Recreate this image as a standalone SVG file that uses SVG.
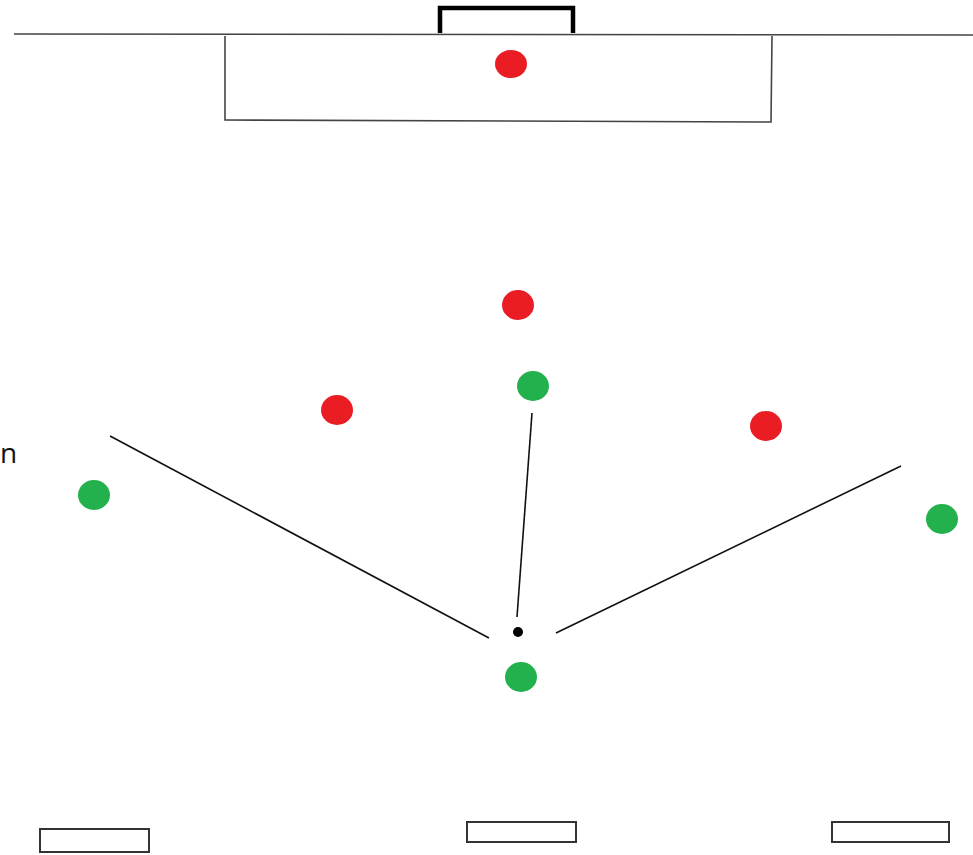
<svg xmlns="http://www.w3.org/2000/svg" width="973" height="855" viewBox="0 0 973 855">
<style>
.red{fill:#ea1c24}
.green{fill:#22b14c}
.ln{stroke:#111;stroke-width:1.6;fill:none}
.box{stroke:#333;stroke-width:2;fill:#fff}
.pitch{stroke:#444;stroke-width:1.6;fill:none}
</style>
<rect width="973" height="855" fill="#fff"/>
<g id="pitch">
<line x1="14" y1="34" x2="973" y2="35" class="pitch"/>
<path d="M440,33 V8 H573 V33" fill="none" stroke="#000" stroke-width="4.5"/>
<path d="M225,36 V120 L771,122 L772,36" class="pitch"/>
</g>
<g id="connectors">
<line x1="110" y1="436" x2="489" y2="638" class="ln"/>
<line x1="532" y1="413" x2="517" y2="617" class="ln"/>
<line x1="556" y1="633" x2="901" y2="466" class="ln"/>
</g>
<g id="ball"><circle cx="518" cy="632" r="5" fill="#000"/></g>
<g id="red-keeper"><ellipse cx="511" cy="64" rx="16" ry="14" class="red"/></g>
<g id="red-1"><ellipse cx="518" cy="305" rx="16" ry="15" class="red"/></g>
<g id="red-2"><ellipse cx="337" cy="410" rx="16" ry="15" class="red"/></g>
<g id="red-3"><ellipse cx="766" cy="426" rx="16" ry="15" class="red"/></g>
<g id="green-1"><ellipse cx="533" cy="386" rx="16" ry="15" class="green"/></g>
<g id="green-2"><ellipse cx="94" cy="495" rx="16" ry="15" class="green"/></g>
<g id="green-3"><ellipse cx="942" cy="519" rx="16" ry="15" class="green"/></g>
<g id="green-4"><ellipse cx="521" cy="677" rx="16" ry="15" class="green"/></g>
<g id="cone-1"><rect x="40" y="829" width="109" height="23" class="box"/></g>
<g id="cone-2"><rect x="467" y="822" width="109" height="20" class="box"/></g>
<g id="cone-3"><rect x="832" y="822" width="117" height="20" class="box"/></g>
<g id="label"><text x="0" y="463" font-family="'Open Sans', 'Liberation Sans', sans-serif" font-size="28" fill="#111">n</text></g>
</svg>
